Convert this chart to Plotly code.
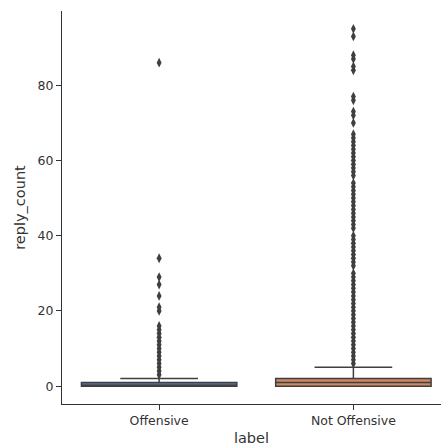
import plotly.graph_objects as go

categories = ["Offensive", "Not Offensive"]
q1 = [0, 0]
median = [0, 1]
q3 = [1, 2]
lower_fence = [0, 0]
upper_fence = [2, 5]

offensive_outliers = [3, 4, 5, 6, 7, 8, 9, 10, 11, 12, 13, 14, 15, 16,
                      20, 21, 24, 27, 29, 34, 86]
not_offensive_outliers = [6, 7, 8, 9, 10, 11, 12, 13, 14, 15, 16, 17, 18, 19, 20,
                          21, 22, 23, 24, 25, 26, 27, 28, 29, 30,
                          32, 33, 34, 35, 36, 37, 38, 39, 40,
                          42, 43, 44, 45, 46, 47, 48, 49, 50, 51, 52, 53, 54,
                          56, 57, 58, 59, 60, 61, 62, 63, 64, 65, 66, 67,
                          70, 72, 73, 76, 77, 84, 85, 87, 88, 93, 95]

fill_colors = ["#5875a4", "#cc8963"]
edge = "#3f3f3f"

fig = go.Figure()
for i, cat in enumerate(categories):
    fig.add_trace(go.Box(
        x=[cat], q1=[q1[i]], median=[median[i]], q3=[q3[i]],
        lowerfence=[lower_fence[i]], upperfence=[upper_fence[i]],
        fillcolor=fill_colors[i], line=dict(color=edge, width=1.5),
        width=0.8, whiskerwidth=0.5, boxpoints=False, showlegend=False,
        hoverinfo="skip",
    ))

for cat, vals in zip(categories, [offensive_outliers, not_offensive_outliers]):
    fig.add_trace(go.Scatter(
        x=[cat] * len(vals), y=vals, mode="markers",
        marker=dict(symbol="diamond-tall", size=7, color=edge, line=dict(width=0)),
        showlegend=False, hoverinfo="skip",
    ))

font_color = "#333333"
fig.update_layout(
    width=441, height=448,
    margin=dict(l=62, r=0, t=11, b=44),
    paper_bgcolor="white", plot_bgcolor="white",
    font=dict(family="DejaVu Sans", size=12.5, color=font_color),
    xaxis=dict(
        type="category", categoryorder="array", categoryarray=categories,
        range=[-0.5, 1.451], automargin=False,
        showgrid=False, zeroline=False,
        showline=True, linecolor=font_color, linewidth=1.25,
        ticks="outside", ticklen=5, tickwidth=1.25, tickcolor=font_color,
        title=dict(text="label", font=dict(size=14.5), standoff=5),
    ),
    yaxis=dict(
        range=[-4.75, 99.75], automargin=False,
        tickvals=[0, 20, 40, 60, 80],
        showgrid=False, zeroline=False,
        showline=True, linecolor=font_color, linewidth=1.25,
        ticks="outside", ticklen=5, tickwidth=1.25, tickcolor=font_color,
        title=dict(text="reply_count", font=dict(size=14.5), standoff=8),
    ),
)

fig.write_html(
    "out.html",
    config={"displayModeBar": False},
    post_script="document.body.style.margin='0';document.body.style.overflow='hidden';",
)
